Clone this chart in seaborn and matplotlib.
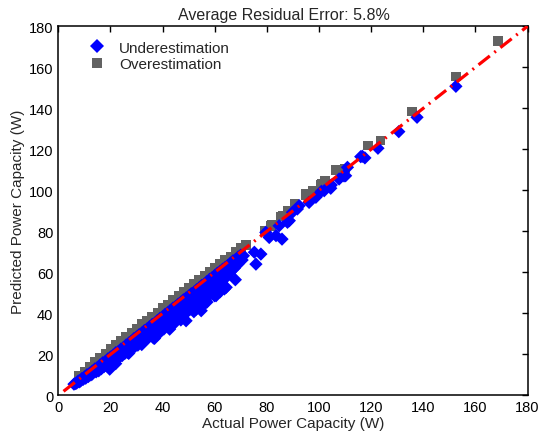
import matplotlib
matplotlib.use("Agg")
import matplotlib.pyplot as plt
import seaborn as sns
import pandas as pd

# data (actual W, predicted W)
under_x = [6.0, 6.5, 7, 7.5, 8, 8.5, 9, 9.5, 10, 10.5, 11, 11.5, 12, 12.5, 13, 13,
           14, 14.5, 15, 15.5, 16, 16.5, 17, 17.5, 18, 18.5, 19, 19.5, 20, 20.5,
           21, 21.5, 22, 22.5, 23, 23.5, 24, 24.5, 25, 25.5, 26, 26.5, 27, 27.5,
           28, 28.5, 29, 29.5, 30, 30.5, 31, 31.5, 32, 32.5, 33, 33.5, 34, 34.5,
           35, 35.5, 36, 36.5, 37, 37.5, 38, 38.5, 39, 39.5, 40, 40.5, 41, 41.5,
           42, 42.5, 43, 43.5, 44, 44.5, 45, 45.5, 46, 46.5, 47, 47.5, 48, 48.5,
           49, 49.5, 50, 50.5, 51, 51.5, 52, 52.5, 53, 53.5, 54, 54.5, 55, 55.5,
           56, 56.5, 57, 57.5, 58, 58.5, 59, 59.5, 60, 60.5, 61, 61.5, 62, 62.5,
           63, 63.5, 64, 64.5, 65, 65.5, 66, 66.5, 67, 67.5, 68, 69, 70,
           10, 15, 20, 25, 30, 35, 40, 45, 50, 55, 60, 65,
           19.7, 22, 27, 32, 36.9, 38, 42.7, 44, 47, 49, 52, 54.8, 57, 60.5, 62,
           64.4, 59.9, 55.4, 52.9, 67.9, 63.7,
           8, 12, 16, 18, 23, 26, 28, 31, 33, 34, 37, 39, 41, 43, 46, 48, 51, 53,
           56, 58, 59, 61, 63, 66, 68, 69, 70.5,
           71, 75.8, 75.2, 77.7, 85.8, 80.9, 79.6, 88.6, 89.8, 91.7, 96.2, 98.8,
           102, 104.5, 107.7, 110.2, 110.9, 83.5, 84.7, 87.9, 92.4, 100.9, 104.7,
           109.6, 116, 117.6, 116.6, 122.6, 130.6, 137.6, 152.5]
under_y = [5.5, 5.8, 6.0, 6.8, 7.2, 7.0, 8.2, 7.8, 9.0, 8.4, 10.1, 9.2, 10.8, 10.0, 11.8, 10.4,
           12.9, 11.5, 13.6, 12.0, 14.8, 13.0, 15.9, 14.0, 16.5, 14.5, 17.8, 15.2, 18.7, 16.0,
           19.5, 17.0, 20.8, 17.6, 21.4, 18.8, 22.6, 19.4, 23.3, 20.5, 24.6, 21.0, 25.5, 22.5,
           26.4, 23.0, 27.7, 24.0, 28.5, 24.5, 29.6, 26.0, 30.4, 26.5, 31.6, 27.3, 32.4, 28.0,
           33.5, 29.3, 34.6, 28.0, 35.2, 31.0, 36.5, 31.5, 37.6, 33.0, 38.4, 32.4, 39.6, 34.5,
           40.3, 33.5, 41.5, 36.0, 42.6, 36.4, 43.3, 38.0, 44.5, 37.5, 45.4, 40.0, 46.6, 39.5,
           47.5, 41.5, 48.4, 42.0, 49.6, 43.5, 50.3, 42.6, 51.5, 45.5, 52.4, 44.0, 53.6, 47.0,
           54.3, 46.5, 55.5, 49.5, 56.6, 50.0, 57.4, 52.0, 58.5, 50.5, 59.6, 53.5, 60.4, 55.0,
           61.5, 56.5, 62.4, 58.0, 63.3, 59.5, 64.5, 61.0, 65.6, 62.0, 66.3, 67.5, 68.4,
           8.6, 12.8, 17.2, 21.8, 26.3, 31.2, 35.3, 40.5, 45.1, 50.4, 54.8, 61.2,
           12.8, 15.5, 20.5, 24.8, 27.8, 29.5, 32.3, 34.5, 36.8, 36.4, 40.8, 41.3, 45.5, 48.6, 50.5,
           52.7, 48.6, 43.7, 42.1, 56.4, 51.9,
           6.6, 10.2, 13.9, 15.6, 19.8, 22.7, 24.4, 27.2, 29.0, 30.1, 32.8, 34.6, 36.3,
           38.2, 41.0, 42.9, 45.6, 47.6, 50.3, 52.4, 53.1, 55.6, 57.8, 60.4, 62.8, 64.2, 66.0,
           68.1, 64.0, 69.8, 68.9, 76.2, 77.0, 79.5, 85.2, 89.3, 90.9, 94.1, 96.6,
           99.8, 101.0, 105.5, 107.1, 111.2, 77.9, 82.7, 84.4, 92.5, 99.5, 102.6,
           107.0, 116.4, 115.8, 116.6, 120.5, 128.6, 135.6, 150.7]

over_x = [8, 10, 12, 14, 16, 18, 20, 22, 24, 26, 28, 30, 32, 34, 36, 38, 40, 42, 44,
          46, 48, 50, 52, 54, 56, 58, 60, 62, 64, 66, 68, 70,
          15, 25, 35, 45, 55, 65,
          72, 79, 81.6, 81.9, 85.4, 86, 87.9, 90.5, 94.9, 95, 97.7, 100.7, 101,
          102.3, 106.4, 106.7, 109.9, 118.8, 123.6, 135.7, 152.5, 168.6]
over_y = [9.5, 11.8, 14.0, 16.2, 18.5, 20.3, 22.8, 24.5, 26.8, 28.5, 30.8, 32.3, 34.8,
          36.5, 38.6, 40.5, 42.8, 44.3, 46.6, 48.4, 50.8, 52.3, 54.6, 56.2, 58.6, 60.3,
          62.5, 64.2, 66.4, 67.8, 70.0, 71.8,
          15.8, 26.0, 36.0, 46.0, 56.0, 66.0,
          73.3, 80.3, 82.7, 83.2, 87.3, 87.6, 90.0, 93.3, 97.7, 98.2, 99.8, 102.9, 103.0,
          104.7, 110.0, 109.6, 110.7, 121.8, 124.2, 138.5, 155.6, 172.7]

ideal_x = [2, 180]
ideal_y = [2, 180]

df = pd.concat([
    pd.DataFrame({"actual": over_x, "predicted": over_y, "kind": "Overestimation"}),
    pd.DataFrame({"actual": under_x, "predicted": under_y, "kind": "Underestimation"}),
], ignore_index=True)

sns.set_style("white")
plt.rcParams["font.family"] = ["Liberation Sans", "DejaVu Sans"]

fig, ax = plt.subplots(figsize=(5.4, 4.39), dpi=100)
fig.subplots_adjust(left=0.108, right=0.977, bottom=0.097, top=0.938)

sns.scatterplot(
    data=df, x="actual", y="predicted",
    hue="kind", style="kind",
    hue_order=["Underestimation", "Overestimation"],
    palette={"Underestimation": "#0000ff", "Overestimation": "#626262"},
    markers={"Underestimation": "D", "Overestimation": "s"},
    s=46, linewidth=0, ax=ax, zorder=2,
)

ax.plot(ideal_x, ideal_y, color="#ff0000", linewidth=2.3,
        dashes=(4.5, 1.8, 0.6, 1.8), zorder=3)

ax.set_xlim(0, 180)
ax.set_ylim(0, 180)
ax.set_xticks(range(0, 181, 20))
ax.set_yticks(range(0, 181, 20))
ax.tick_params(direction="in", length=4, width=1, labelsize=10.5,
               top=True, right=True, colors="black")
for sp in ax.spines.values():
    sp.set_color("black")
    sp.set_linewidth(1.1)

ax.set_title("Average Residual Error: 5.8%", fontsize=11.5, pad=5, x=0.48)
ax.set_xlabel("Actual Power Capacity (W)", fontsize=11, labelpad=1)
ax.set_ylabel("Predicted Power Capacity (W)", fontsize=11, labelpad=3)

leg = ax.legend(loc="upper left", frameon=False, fontsize=11,
                bbox_to_anchor=(0.02, 0.998), handletextpad=0.45,
                labelspacing=0.15, markerscale=1.0)

fig.savefig("out.png", dpi=100)
